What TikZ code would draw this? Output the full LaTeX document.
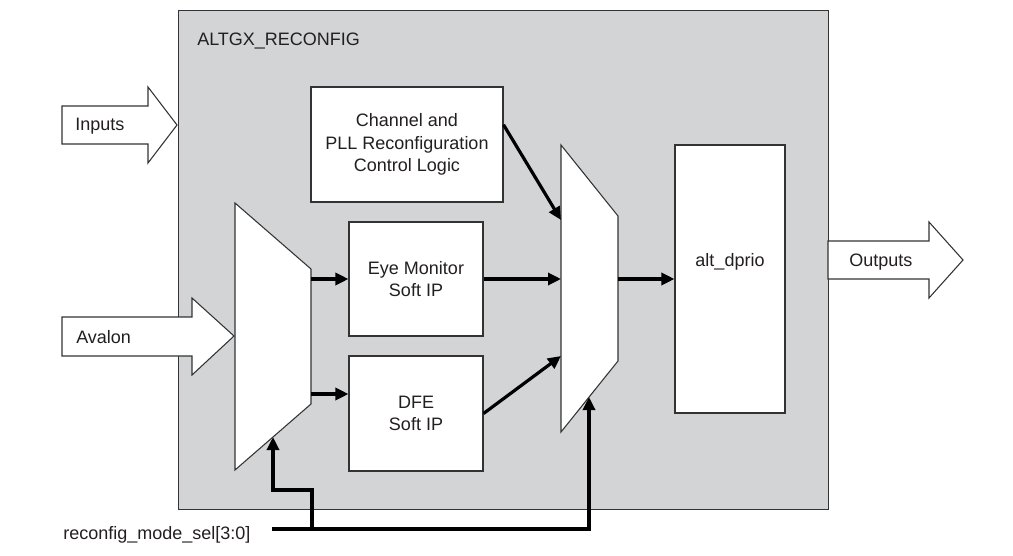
\documentclass[tikz,border=0pt]{standalone}
\usepackage{fontspec}
\setmainfont{Liberation Sans}
\usetikzlibrary{arrows.meta}
\usetikzlibrary{calc}
\usetikzlibrary{shapes}
\definecolor{panelgray}{RGB}{211,212,214}
\definecolor{textgray}{RGB}{35,31,32}

\begin{document}
\begin{tikzpicture}[x=0.75pt, y=-0.75pt, line join=miter,
        font=\fontsize{13.5}{17}\selectfont, text=textgray,
        panel_style/.style={draw=black!80, line width=0.8pt, fill=panelgray, inner sep=0pt},
        block_style/.style={draw=black!80, line width=0.8pt, fill=white, align=center, inner sep=0pt},
        mux_style/.style={draw=black!80, line width=0.8pt, fill=white},
        port_style/.style={draw=black!80, line width=0.8pt, fill=white},
        label_style/.style={anchor=west, inner sep=0pt},
        edge_style/.style={draw=black, line width=2.4pt, -{Triangle[length=9.75pt, width=9pt]}}]

        \useasboundingbox (0,0) rectangle (1013,556);

        \node [panel_style, minimum width=487.5pt, minimum height=374.25pt, anchor=north west](panel) at (178,10) {};
        \node [label_style](title) at (197,41) {ALTGX\_RECONFIG};

        \draw [port_style] (62,106) -- (148,106) -- (148,87) -- (177,125) -- (148,163) -- (148,144) -- (62,144) -- cycle;
        \node [label_style](inputs) at (75,126) {Inputs};

        \draw [port_style] (828,241) -- (929,241) -- (929,222) -- (963,260) -- (929,298) -- (929,279) -- (828,279) -- cycle;
        \node [label_style](outputs) at (849,262) {Outputs};

        \draw [mux_style] (235,203) -- (311,269) -- (311,404) -- (235,470) -- cycle;

        \draw [mux_style] (561,145) -- (618,216) -- (618,361) -- (561,432) -- cycle;

        \draw [port_style] (62,317) -- (192,317) -- (192,298) -- (234,336) -- (192,375) -- (192,356) -- (62,356) -- cycle;
        \node [label_style](avalon) at (76,337) {Avalon};

        \node [block_style, minimum width=144pt, minimum height=86.25pt](ctrl) at (407,144.5) {Channel and\\PLL Reconfiguration\\Control Logic};

        \node [block_style, minimum width=100.5pt, minimum height=85.5pt](eye) at (416,279) {Eye Monitor\\Soft IP};

        \node [block_style, minimum width=100.5pt, minimum height=86.25pt](dfe) at (416,413.5) {DFE\\Soft IP};

        \node [block_style, minimum width=82.5pt, minimum height=201pt,
            label={[yshift=12.75pt, inner sep=0pt]center:alt\_dprio}](dprio) at (730,279) {};

        \node [label_style](sel_lbl) at (63,535) {reconfig\_mode\_sel[3:0]};

        % mux pins
        \coordinate (mux_a_out1) at (311,279);
        \coordinate (mux_a_out2) at (311,394);
        \coordinate (mux_a_sel) at (273,437);
        \coordinate (mux_b_in1) at (561,220);
        \coordinate (mux_b_in2) at (561,279);
        \coordinate (mux_b_in3) at (561,356);
        \coordinate (mux_b_out) at (618,279);
        \coordinate (mux_b_sel) at (589,397);
        \coordinate (bus_start) at (272,529);
        \coordinate (bus_tap) at (312,529);

        \draw [edge_style] (mux_a_out1) -- (eye.west);

        \draw [edge_style] (mux_a_out2) -- (mux_a_out2 -| dfe.west);

        \draw [edge_style] ($(ctrl.north east)!0.33!(ctrl.south east)$) -- (mux_b_in1);

        \draw [edge_style] (eye.east) -- (mux_b_in2);

        \draw [edge_style] (dfe.east) -- (mux_b_in3);

        \draw [edge_style] (mux_b_out) -- (dprio.west);

        \draw [edge_style] (bus_start) -- (bus_start -| mux_b_sel) -- (mux_b_sel);

        \draw [edge_style] (bus_tap) -- ++(0,-39) -| (mux_a_sel);

        \end{tikzpicture}
\end{document}
